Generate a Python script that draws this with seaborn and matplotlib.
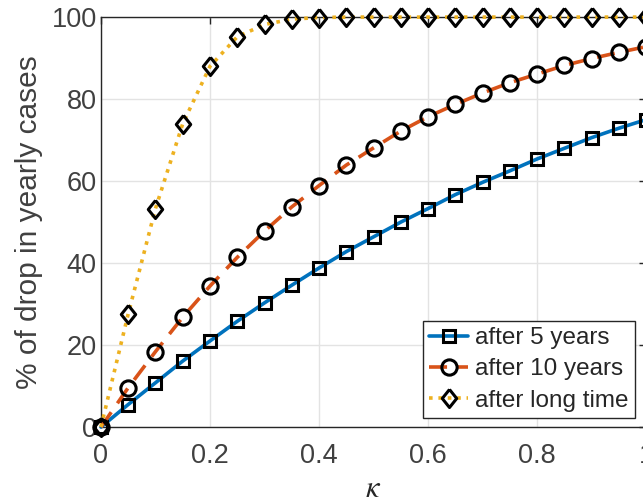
import numpy as np
import pandas as pd
import matplotlib
matplotlib.use("Agg")
import matplotlib.pyplot as plt
import seaborn as sns

# data
kappa = [0.0, 0.05, 0.1, 0.15, 0.2, 0.25, 0.3, 0.35, 0.4, 0.45, 0.5,
         0.55, 0.6, 0.65, 0.7, 0.75, 0.8, 0.85, 0.9, 0.95, 1.0]
after_5 = [0.0, 5.5, 10.8, 16.1, 21.0, 25.8, 30.3, 34.6, 38.8, 42.8, 46.4,
           50.0, 53.3, 56.7, 59.7, 62.5, 65.4, 68.0, 70.6, 72.9, 75.0]
after_10 = [0.0, 9.6, 18.4, 26.8, 34.4, 41.4, 47.8, 53.7, 58.9, 63.9, 68.1,
            72.2, 75.7, 78.7, 81.5, 84.0, 86.1, 88.2, 89.9, 91.4, 92.8]
after_long = [0.0, 27.6, 53.3, 74.0, 88.0, 95.2, 98.2, 99.5, 99.9, 100.0, 100.0,
              100.0, 100.0, 100.0, 100.0, 100.0, 100.0, 100.0, 100.0, 100.0, 100.0]
labels = ["after 5 years", "after 10 years", "after long time"]

df = pd.DataFrame({"kappa": kappa, "after_5": after_5,
                   "after_10": after_10, "after_long": after_long})

sns.set_style("white")
plt.rcParams["font.family"] = ["Liberation Sans", "DejaVu Sans"]
plt.rcParams["mathtext.fontset"] = "stix"

fig = plt.figure(figsize=(6.43, 5.03), dpi=100)
ax = fig.add_axes([0.157, 0.151, 0.848, 0.815])

axis_col = "#262626"
tick_col = "#404040"

# matlab-style diamond, a bit taller than wide
diamond = [(0, 1), (0.8, 0), (0, -1), (-0.8, 0), (0, 1)]

styles = [
    ("after_5", "#0072BD", "-", "s", 9),
    ("after_10", "#D95319", (0, (5, 3)), "o", 11),
    ("after_long", "#EDB120", (0, (1, 1.6)), diamond, 13),
]
for (col, color, ls, mk, ms), lab in zip(styles, labels):
    sns.lineplot(data=df, x="kappa", y=col, ax=ax, color=color, linestyle=ls,
                 linewidth=2.6, marker=mk, markersize=ms,
                 markerfacecolor="none", markeredgecolor="black",
                 markeredgewidth=2.2, label=lab, clip_on=False, zorder=3)

ax.set_xlim(0, 1)
ax.set_ylim(0, 100)
ax.set_xticks([0, 0.2, 0.4, 0.6, 0.8, 1.0])
ax.set_xticklabels(["0", "0.2", "0.4", "0.6", "0.8", "1"])
ax.set_yticks([0, 20, 40, 60, 80, 100])
ax.grid(True, color="#e3e3e3", linewidth=1.0)
ax.set_axisbelow(True)
for s in ax.spines.values():
    s.set_color(axis_col)
    s.set_linewidth(1.0)
ax.tick_params(direction="in", length=5, width=1.0, color=axis_col,
               labelcolor=tick_col, labelsize=19.5, top=True, right=True)
ax.tick_params(axis="x", pad=11.5)
ax.tick_params(axis="y", pad=3)

ax.set_xlabel(r"$\kappa$", fontsize=22, color="#262626", va="center")
ax.xaxis.set_label_coords(0.5, -0.150)
ax.set_ylabel("% of drop in yearly cases", fontsize=21.5, color=tick_col,
              labelpad=6)

leg = ax.legend(loc="lower right", bbox_to_anchor=(0.9876, 0.1696),
                bbox_transform=fig.transFigure, borderaxespad=0,
                fontsize=17.5, frameon=True, fancybox=False, framealpha=1,
                edgecolor=axis_col, handlelength=1.6, handletextpad=0.3,
                labelspacing=0.38, borderpad=0.25)
leg.get_frame().set_linewidth(1.0)
for t in leg.get_texts():
    t.set_color("#262626")

fig.savefig("out.png", dpi=100)
